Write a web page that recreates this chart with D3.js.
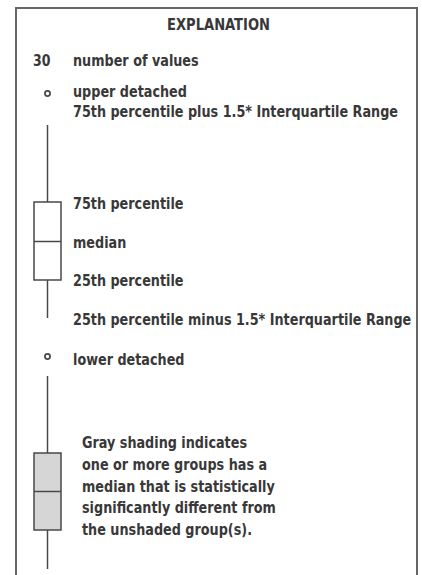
<!DOCTYPE html>
<html>
<head>
<meta charset="utf-8">
<script src="https://cdn.jsdelivr.net/npm/d3@7"></script>
<style>
  html, body { margin: 0; padding: 0; background: #fff; }
  svg text { font-family: "DejaVu Sans Condensed", "DejaVu Sans", sans-serif; }
</style>
</head>
<body>
<svg id="chart" width="422" height="575"></svg>
<script>
// ---- legend content -------------------------------------------------------
const title = "EXPLANATION";
const countValue = "30";
const countText = "number of values";

// schematic box plot used as the key (legend units)
const keyStatNames = ["upper detached", "whisker high", "q3", "median", "q1", "whisker low", "lower detached"];
const keyStatValues = [96.3, 90, 74.6, 66.7, 59, 51.4, 43.7];
const keyStatLabels = [
  "upper detached",
  "75th percentile plus 1.5* Interquartile Range",
  "75th percentile",
  "median",
  "25th percentile",
  "25th percentile minus 1.5* Interquartile Range",
  "lower detached"
];
const countRowValue = 103;

// shaded example box: whisker high, q3, median, q1, whisker low
const shadedStatValues = [39.8, 24.4, 16.7, 9, 1.2];
const shadedNote = [
  "Gray shading indicates",
  "one or more groups has a",
  "median that is statistically",
  "significantly different from",
  "the unshaded group(s)."
];

// ---- drawing --------------------------------------------------------------
const W = 422, H = 575;
const svg = d3.select("#chart");
const y = d3.scaleLinear().domain([0, 90]).range([575, 125]);

const ink = "#383838";
const lineInk = "#484848";
const boxX = 47.5, boxHalf = 13.5, labelX = 73;
const fontSize = 15, squeeze = 0.948;

// condensed text: glyphs narrowed horizontally around their anchor point
function label(sel, x, yPos, opts = {}) {
  return sel
    .attr("x", 0).attr("y", 0)
    .attr("transform", `translate(${x},${yPos}) scale(${opts.sx || squeeze},1)`)
    .attr("font-size", opts.size || fontSize)
    .attr("font-weight", opts.weight || "bold")
    .attr("text-anchor", opts.anchor || "start")
    .attr("fill", ink);
}

// frame (open at the bottom)
svg.append("path")
  .attr("d", `M16,${H} V8 H417 V${H}`)
  .attr("fill", "none")
  .attr("stroke", "#666")
  .attr("stroke-width", 2);

label(svg.append("text").text(title), 218.5, 29.5, { anchor: "middle", size: 15.5, sx: 0.94 });

// count row
label(svg.append("text").text(countValue), 50.5, y(countRowValue) + 6, { anchor: "end", size: 15.5, sx: 0.9 });
label(svg.append("text").text(countText), labelX, y(countRowValue) + 6);

function drawBox(g, vals, fill) {
  const [hi, q3, med, q1, lo] = vals.map(y);
  g.append("line").attr("x1", boxX).attr("x2", boxX).attr("y1", hi).attr("y2", q3);
  g.append("line").attr("x1", boxX).attr("x2", boxX).attr("y1", q1).attr("y2", lo);
  g.append("rect")
    .attr("x", boxX - boxHalf).attr("y", q3)
    .attr("width", boxHalf * 2).attr("height", q1 - q3)
    .attr("fill", fill);
  g.append("line").attr("x1", boxX - boxHalf).attr("x2", boxX + boxHalf).attr("y1", med).attr("y2", med);
}

const keyG = svg.append("g").attr("stroke", lineInk).attr("stroke-width", 1.5);
drawBox(keyG, keyStatValues.slice(1, 6), "#fff");
keyG.selectAll("circle")
  .data([keyStatValues[0], keyStatValues[6]])
  .join("circle")
  .attr("cx", boxX).attr("cy", d => y(d))
  .attr("r", 2.6).attr("fill", "#fff").attr("stroke-width", 1.7);

// labels beside each statistic; the whisker-high label sits above its line
const labelShift = [3.5, -8, 6.5, 6, 5.5, 7, 8];
svg.append("g")
  .selectAll("text")
  .data(keyStatLabels)
  .join("text")
  .text(d => d)
  .each(function (d, i) {
    label(d3.select(this), labelX, y(keyStatValues[i]) + labelShift[i]);
  });

// shaded example
const shadedG = svg.append("g").attr("stroke", lineInk).attr("stroke-width", 1.5);
drawBox(shadedG, shadedStatValues, "#d6d6d6");

svg.append("g")
  .selectAll("text")
  .data(shadedNote)
  .join("text")
  .text(d => d)
  .each(function (d, i) {
    label(d3.select(this), 82, 448 + i * 21.8);
  });
</script>
</body>
</html>
